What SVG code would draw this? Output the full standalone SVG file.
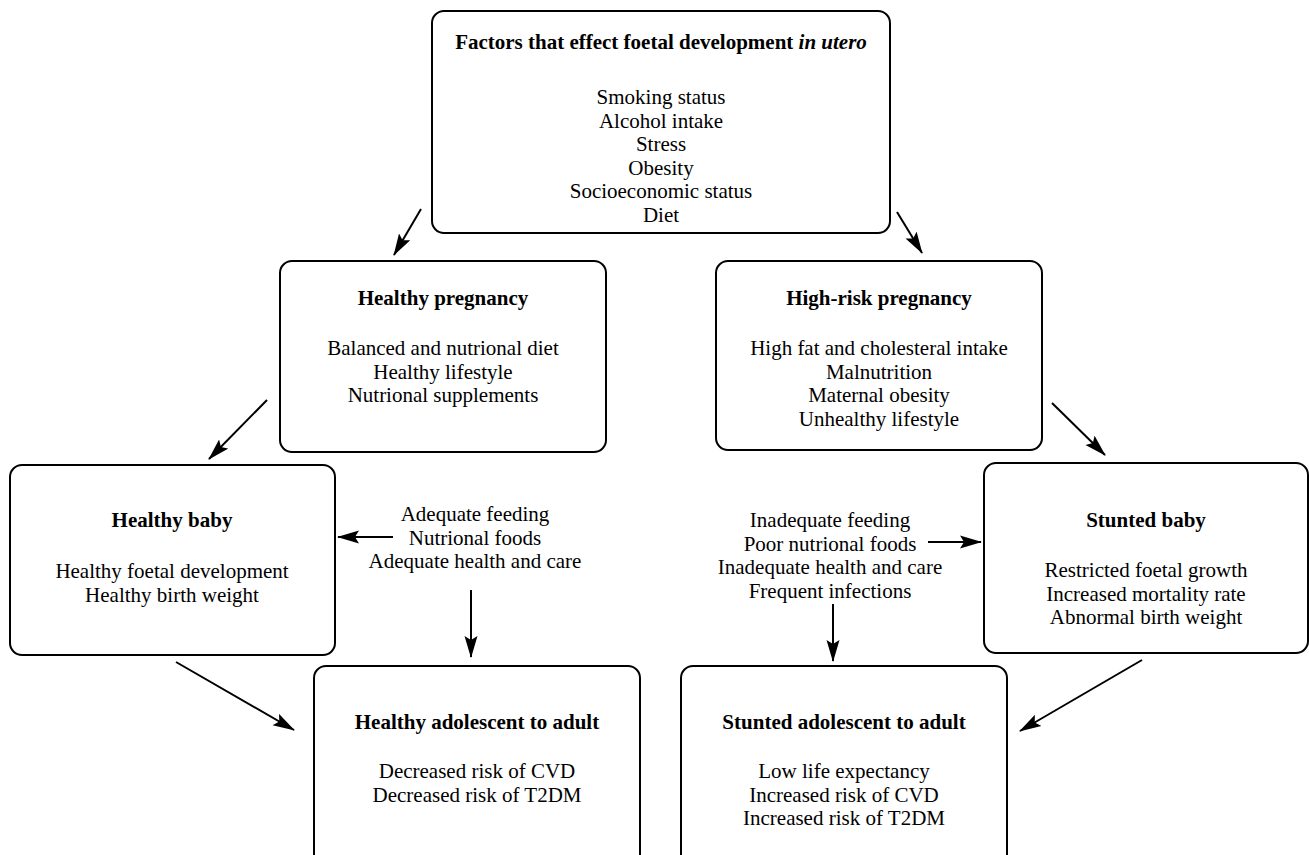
<svg xmlns="http://www.w3.org/2000/svg" width="1309" height="855" viewBox="0 0 1309 855">
<style>
.box{fill:#fff;stroke:#000;stroke-width:2}
text{font-family:"Liberation Serif","Times New Roman",serif;font-size:21px;fill:#000;text-anchor:middle}
.t{font-weight:bold}
.c{stroke:#000;stroke-width:2;fill:none;marker-end:url(#ah)}
</style>
<defs>
<marker id="ah" markerWidth="22" markerHeight="14" refX="21" refY="7" orient="auto" markerUnits="userSpaceOnUse" viewBox="0 0 22 14">
<path d="M0,0.5 L22,7 L0,13.5 L4,7 Z" fill="#000"/>
</marker>
</defs>
<rect width="1309" height="855" fill="#fff"/>
<g id="factors">
<rect class="box" x="432" y="11" width="458" height="222" rx="12"/>
<text class="t" x="661" y="49">Factors that effect foetal development <tspan font-style="italic">in utero</tspan></text>
<text x="661" y="104">Smoking status</text>
<text x="661" y="127.5">Alcohol intake</text>
<text x="661" y="151">Stress</text>
<text x="661" y="174.5">Obesity</text>
<text x="661" y="198">Socioeconomic status</text>
<text x="661" y="221.5">Diet</text>
</g>
<g id="healthy-pregnancy">
<rect class="box" x="280" y="261" width="326" height="191" rx="12"/>
<text class="t" x="443" y="305">Healthy pregnancy</text>
<text x="443" y="355">Balanced and nutrional diet</text>
<text x="443" y="378.5">Healthy lifestyle</text>
<text x="443" y="402">Nutrional supplements</text>
</g>
<g id="high-risk-pregnancy">
<rect class="box" x="716" y="261" width="326" height="189" rx="12"/>
<text class="t" x="879" y="305">High-risk pregnancy</text>
<text x="879" y="355">High fat and cholesteral intake</text>
<text x="879" y="378.5">Malnutrition</text>
<text x="879" y="402">Maternal obesity</text>
<text x="879" y="425.5">Unhealthy lifestyle</text>
</g>
<g id="healthy-baby">
<rect class="box" x="10" y="465" width="325" height="190" rx="12"/>
<text class="t" x="172" y="527">Healthy baby</text>
<text x="172" y="578">Healthy foetal development</text>
<text x="172" y="601.5">Healthy birth weight</text>
</g>
<g id="stunted-baby">
<rect class="box" x="984" y="463" width="324" height="190" rx="12"/>
<text class="t" x="1146" y="527">Stunted baby</text>
<text x="1146" y="577">Restricted foetal growth</text>
<text x="1146" y="600.5">Increased mortality rate</text>
<text x="1146" y="624">Abnormal birth weight</text>
</g>
<g id="healthy-feeding">
<text x="475" y="521">Adequate feeding</text>
<text x="475" y="544.5">Nutrional foods</text>
<text x="475" y="568">Adequate health and care</text>
</g>
<g id="inadequate-feeding">
<text x="830" y="527">Inadequate feeding</text>
<text x="830" y="550.5">Poor nutrional foods</text>
<text x="830" y="574">Inadequate health and care</text>
<text x="830" y="597.5">Frequent infections</text>
</g>
<g id="healthy-adult">
<rect class="box" x="314" y="666" width="326" height="200" rx="12"/>
<text class="t" x="477" y="729">Healthy adolescent to adult</text>
<text x="477" y="778">Decreased risk of CVD</text>
<text x="477" y="801.5">Decreased risk of T2DM</text>
</g>
<g id="stunted-adult">
<rect class="box" x="681" y="666" width="326" height="200" rx="12"/>
<text class="t" x="844" y="729">Stunted adolescent to adult</text>
<text x="844" y="778">Low life expectancy</text>
<text x="844" y="801.5">Increased risk of CVD</text>
<text x="844" y="825">Increased risk of T2DM</text>
</g>
<g id="connectors">
<line class="c" x1="421" y1="209" x2="394" y2="255"/>
<line class="c" x1="897" y1="212" x2="922" y2="253"/>
<line class="c" x1="267" y1="400" x2="209" y2="459"/>
<line class="c" x1="1052" y1="403" x2="1105" y2="455"/>
<line class="c" x1="393" y1="537" x2="338" y2="537"/>
<line class="c" x1="928" y1="542" x2="981" y2="542"/>
<line class="c" x1="471" y1="590" x2="471" y2="657"/>
<line class="c" x1="833" y1="604" x2="833" y2="661"/>
<line class="c" x1="176" y1="662" x2="294" y2="730"/>
<line class="c" x1="1142" y1="660" x2="1020" y2="731"/>
</g>
</svg>
